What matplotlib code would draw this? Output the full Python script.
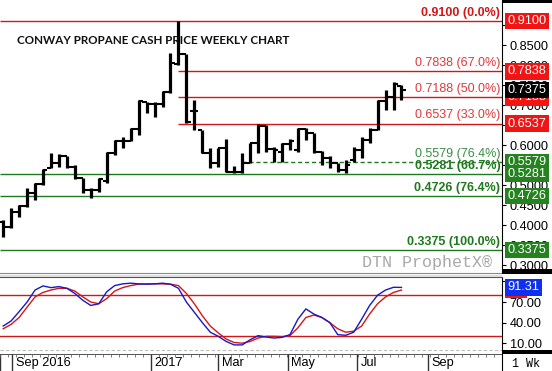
import matplotlib
matplotlib.use("Agg")
import matplotlib.pyplot as plt
import matplotlib.dates as mdates
import matplotlib.transforms as mtransforms
from matplotlib.patches import Rectangle
import pandas as pd

plt.rcParams['font.family'] = ['Liberation Sans', 'DejaVu Sans']

# ---------------- data ----------------
dates = pd.date_range("2016-08-24", periods=51, freq="7D")
opens = [0.4075, 0.395, 0.4325, 0.4475, 0.48, 0.5025, 0.5425, 0.555, 0.5725, 0.545,
         0.5175, 0.4875, 0.4875, 0.51, 0.58, 0.61, 0.61, 0.64, 0.7075, 0.7025,
         0.7025, 0.7325, 0.8025, 0.8275, 0.685, 0.6375, 0.58, 0.555, 0.5925, 0.5325,
         0.5325, 0.555, 0.605, 0.6475, 0.59, 0.5825, 0.6025, 0.5875, 0.64, 0.63,
         0.5825, 0.5675, 0.555, 0.5375, 0.5625, 0.5875, 0.6125, 0.6375, 0.71, 0.72,
         0.7475]
highs = [0.4125, 0.4425, 0.45, 0.4925, 0.505, 0.54, 0.58, 0.5775, 0.5725, 0.55,
         0.5175, 0.4925, 0.5175, 0.5825, 0.6125, 0.62, 0.6425, 0.7125, 0.7075, 0.7075,
         0.735, 0.83, 0.91, 0.8275, 0.7125, 0.6375, 0.5925, 0.5925, 0.615, 0.5475,
         0.58, 0.605, 0.6525, 0.65, 0.595, 0.605, 0.615, 0.6425, 0.6425, 0.63,
         0.585, 0.5725, 0.555, 0.5625, 0.595, 0.62, 0.6425, 0.7125, 0.7375, 0.7575,
         0.75]
lows = [0.37, 0.3925, 0.42, 0.445, 0.4625, 0.50, 0.5425, 0.545, 0.5425, 0.515,
        0.48, 0.4675, 0.4825, 0.505, 0.575, 0.5925, 0.61, 0.625, 0.68, 0.67,
        0.695, 0.73, 0.80, 0.655, 0.6375, 0.58, 0.5425, 0.545, 0.5325, 0.53,
        0.53, 0.555, 0.58, 0.5825, 0.5575, 0.5575, 0.5875, 0.5825, 0.6125, 0.58,
        0.55, 0.5425, 0.5325, 0.53, 0.5575, 0.5675, 0.605, 0.6375, 0.6875, 0.6875,
        0.7125]
closes = [0.395, 0.4325, 0.4475, 0.48, 0.5025, 0.5375, 0.555, 0.5725, 0.545, 0.5175,
          0.4875, 0.4875, 0.515, 0.58, 0.61, 0.61, 0.64, 0.71, 0.7025, 0.7025,
          0.7325, 0.805, 0.8275, 0.6575, 0.685, 0.58, 0.555, 0.5925, 0.5325, 0.5325,
          0.555, 0.605, 0.6475, 0.59, 0.5875, 0.6025, 0.61, 0.64, 0.63, 0.5825,
          0.5675, 0.555, 0.5375, 0.55, 0.5875, 0.6125, 0.6375, 0.71, 0.72, 0.7525,
          0.7375]
stoch_k = [35, 42.5, 56, 70, 87.5, 93.5, 91, 92.5, 90, 82.5,
           72.5, 65, 67.5, 85, 94, 96.5, 97.5, 96.5, 96, 96.5,
           97.5, 96, 90, 70, 55, 40, 26, 20, 12.5, 7.5,
           7.5, 15, 21, 19, 17.5, 18.5, 22.5, 45, 60, 52.5,
           47.5, 40, 22.5, 21.5, 26, 45, 65, 80, 87.5, 91.5,
           91.31]
stoch_d = [31, 37.5, 47.5, 62.5, 77.5, 84, 87.5, 90, 90, 86,
           77.5, 70, 67.5, 75, 86, 91, 94, 96, 96.5, 96.5,
           96.5, 96, 94, 82.5, 67.5, 50, 35, 25, 16, 11,
           10, 12.5, 17.5, 20, 20, 19.5, 21, 32.5, 47.5, 51,
           47.5, 40, 31, 26, 27.5, 35, 52.5, 67.5, 77.5, 84,
           87.5]

fib_levels = [0.9100, 0.7838, 0.7188, 0.6537, 0.5579, 0.5281, 0.4726, 0.3375]
fib_texts = ["0.9100 (0.0%)", "0.7838 (67.0%)", "0.7188 (50.0%)", "0.6537 (33.0%)",
             "0.5579 (76.4%)", "0.5281 (66.7%)", "0.4726 (76.4%)", "0.3375 (100.0%)"]
fib_start = ["2016-08-21", "2017-01-25", "2017-01-25", "2017-01-25",
             "2017-03-22", "2016-08-21", "2016-08-21", "2016-08-21"]
fib_kind = ["bold_red", "red", "red", "red", "green", "bold_green", "bold_green", "bold_green"]

x_tick_dates = ["2016-09-01", "2017-01-01", "2017-03-01", "2017-05-01", "2017-07-01", "2017-09-01"]
x_tick_labels = ["Sep 2016", "2017", "Mar", "May", "Jul", "Sep"]
price_ticks = [0.30, 0.35, 0.40, 0.45, 0.50, 0.55, 0.60, 0.65, 0.70, 0.75, 0.80, 0.85, 0.90]
price_tick_labels = ["0.3000", "0.3500", "0.4000", "0.4500", "0.5000", "", "0.6000", "",
                     "0.7000", "0.7500", "0.8000", "0.8500", ""]
stoch_ticks = [10, 40, 70, 100]
stoch_tick_labels = ["10.00", "40.00", "70.00", ""]
stoch_levels = [80, 20]

# ---------------- layout ----------------
W, H = 552, 371
fig = plt.figure(figsize=(W / 100, H / 100), dpi=100)
fig.patch.set_facecolor('white')

def fy(py):
    return 1 - py / H

AXW = 502 / W
ax1 = fig.add_axes([0, fy(273), AXW, 273 / H])
ax2 = fig.add_axes([0, fy(353), AXW, (353 - 277) / H], sharex=ax1)
ax3 = fig.add_axes([0, 0, AXW, 17 / H], sharex=ax1)

RED = '#D01818'
LRED = '#E0383A'
GREEN = '#1E7A1E'
LGREEN = '#3C8C46'
BOXRED = '#F01414'
BOXGREEN = '#24821F'

xn = mdates.date2num(dates)
left = mdates.date2num(pd.Timestamp("2016-09-01")) - 10.8
right = left + 502 / 1.138
ax1.set_xlim(left, right)
ax1.set_ylim(0.28, 0.9625)

# bars
tl = 3.6
ax1.vlines(xn, lows, highs, color='black', lw=2.3, zorder=4)
ax1.hlines(opens, xn - tl, xn, color='black', lw=1.5, zorder=4)
ax1.hlines(closes, xn, xn + tl, color='black', lw=1.5, zorder=4)

# fib lines & labels
btrans = mtransforms.blended_transform_factory(ax1.transAxes, ax1.transData)
for lvl, txt, st, kind in zip(fib_levels, fib_texts, fib_start, fib_kind):
    x0 = mdates.date2num(pd.Timestamp(st))
    col = RED if 'red' in kind else GREEN
    ls = (0, (3, 2)) if kind == 'green' else '-'
    ax1.hlines(lvl, x0, right, color=col, lw=1.0, linestyles=[ls], zorder=2)
    tcol = {'bold_red': RED, 'red': LRED, 'green': LGREEN, 'bold_green': GREEN}[kind]
    fw = 'bold' if kind.startswith('bold') else 'normal'
    ax1.annotate(txt, xy=(0.997, lvl), xycoords=btrans, xytext=(0, 1.5),
                 textcoords='offset points', ha='right', va='bottom',
                 fontsize=9, color=tcol, fontweight=fw, zorder=5)

# axes styling main
for s in ('left', 'top'):
    ax1.spines[s].set_visible(False)
ax1.spines['bottom'].set_color('#888888')
ax1.spines['right'].set_color('black')
ax1.yaxis.tick_right()
ax1.set_yticks(price_ticks)
ax1.set_yticklabels(price_tick_labels)
ax1.tick_params(axis='y', direction='out', length=3, width=0.8, pad=2.5, labelsize=9.2)
ax1.tick_params(axis='x', which='both', bottom=False, labelbottom=False)

ax1.text(17 / 502, 0.86125, "CONWAY PROPANE CASH PRICE WEEKLY CHART", ha='left', va='center',
         fontsize=8.4, fontweight='bold', family=['Lato', 'DejaVu Sans'], color='#111111',
         transform=btrans, zorder=6)
ax1.text(362 / 502, 0.3075, "DTN ProphetX\u00ae", ha='left', va='center', fontsize=12,
         family=['Liberation Mono', 'DejaVu Sans Mono'], color='#A8A8A8', transform=btrans)

# right boxes for price axis
def box(ax, trans, y, txt, fc, z):
    ax.text(1.011, y, txt, transform=trans, ha='left', va='center', fontsize=9.2,
            color='white', clip_on=False, zorder=z,
            bbox=dict(boxstyle='square,pad=0.18', fc=fc, ec='none'))

for lvl, kind in zip(fib_levels, fib_kind):
    fc = BOXRED if 'red' in kind else BOXGREEN
    box(ax1, btrans, lvl, f"{lvl:.4f}", fc, 8)
box(ax1, btrans, closes[-1], f"{closes[-1]:.4f}", 'black', 9)

# stochastic panel
ax2.set_ylim(-4.3, 106.5)
ax2.plot(xn, stoch_d, color='#D01818', lw=1.0, zorder=3)
ax2.plot(xn, stoch_k, color='#1818C8', lw=1.0, zorder=4)
for lv in stoch_levels:
    ax2.axhline(lv, color='#D01818', lw=1.0, zorder=2)
ax2.axhline(0, color='#BBBBBB', lw=0.8, ls=(0, (3, 2)), zorder=1)
for s in ('left', 'bottom'):
    ax2.spines[s].set_visible(False)
ax2.spines['top'].set_color('#555555')
ax2.spines['right'].set_color('black')
ax2.yaxis.tick_right()
ax2.set_yticks(stoch_ticks)
ax2.set_yticklabels(stoch_tick_labels)
ax2.tick_params(axis='y', direction='out', length=3, width=0.8, pad=2.5, labelsize=9.2)
ax2.tick_params(axis='x', which='both', bottom=False, labelbottom=False)
btrans2 = mtransforms.blended_transform_factory(ax2.transAxes, ax2.transData)
box(ax2, btrans2, stoch_d[-1], "     ", BOXRED, 8)
box(ax2, btrans2, stoch_k[-1], f"{stoch_k[-1]:.2f}", '#1030F0', 9)

# date strip
ax3.set_ylim(0, 1)
for s in ('top', 'bottom', 'left'):
    ax3.spines[s].set_visible(False)
ax3.spines['right'].set_color('black')
ax3.set_yticks([])
ax3.tick_params(axis='x', which='both', bottom=False, labelbottom=False)
ax3.axhline(1, color='#333333', lw=1.2)
ax3.axvline(left, color='#333333', lw=1.0)
weeks = mdates.date2num(pd.date_range("2016-08-21", "2017-11-05", freq="7D"))
ax3.vlines(weeks, 0.8, 1.0, color='#666666', lw=0.6)
for d, lab in zip(x_tick_dates, x_tick_labels):
    xd = mdates.date2num(pd.Timestamp(d))
    ax3.vlines(xd, 0, 1, color='#333333', lw=1.0)
    ax3.annotate(lab, xy=(xd, 0.45), xycoords='data', xytext=(2.5, 0),
                 textcoords='offset points', ha='left', va='center', fontsize=9.2)

# right side decorations
for (y0, y1) in [(0, 3), (269, 274), (350, 354)]:
    fig.patches.append(Rectangle((502 / W, fy(y1)), 1 - 502 / W, (y1 - y0) / H,
                                 transform=fig.transFigure, fc='black', ec='none'))
fig.patches.append(Rectangle((0, fy(277)), 502 / W, 2 / H, transform=fig.transFigure,
                             fc='#DDDDDD', ec='none'))
fig.text(512 / W, fy(364), "1 Wk", ha='left', va='center', fontsize=8.5,
         family=['Liberation Mono', 'DejaVu Sans Mono'])

fig.savefig("out.png", dpi=100)
